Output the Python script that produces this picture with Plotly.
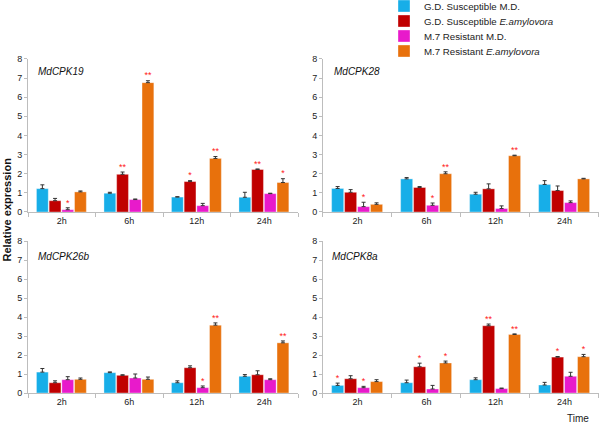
import plotly.graph_objects as go

times = ["2h", "6h", "12h", "24h"]
series_names = ["G.D. Susceptible M.D.", "G.D. Susceptible <i>E.amylovora</i>",
                "M.7 Resistant M.D.", "M.7 Resistant <i>E.amylovora</i>"]
colors = ["#17AEE8", "#C00000", "#E81ACB", "#E8710C"]
genes = ["MdCPK19", "MdCPK28", "MdCPK26b", "MdCPK8a"]

# values[gene][series] across times
cpk19_vals = [[1.22, 0.98, 0.78, 0.77], [0.59, 1.97, 1.59, 2.22], [0.12, 0.65, 0.33, 0.96], [1.05, 6.76, 2.80, 1.54]]
cpk19_err = [[0.20, 0.05, 0.02, 0.26], [0.12, 0.12, 0.05, 0.03], [0.10, 0.03, 0.12, 0.02], [0.05, 0.10, 0.10, 0.20]]
cpk19_sig = [["", "", "", ""], ["", "**", "*", "**"], ["*", "", "", ""], ["", "**", "**", "*"]]

cpk28_vals = [[1.23, 1.73, 0.93, 1.44], [1.03, 1.28, 1.21, 1.12], [0.28, 0.35, 0.18, 0.49], [0.40, 2.00, 2.94, 1.73]]
cpk28_err = [[0.10, 0.07, 0.10, 0.20], [0.14, 0.05, 0.26, 0.24], [0.23, 0.12, 0.14, 0.09], [0.08, 0.10, 0.03, 0.03]]
cpk28_sig = [["", "", "", ""], ["", "", "", ""], ["*", "*", "", ""], ["", "**", "**", ""]]

cpk26b_vals = [[1.10, 1.07, 0.54, 0.88], [0.54, 0.93, 1.33, 0.96], [0.70, 0.79, 0.28, 0.70], [0.72, 0.72, 3.57, 2.64]]
cpk26b_err = [[0.19, 0.04, 0.10, 0.09], [0.10, 0.03, 0.10, 0.21], [0.16, 0.21, 0.09, 0.05], [0.07, 0.12, 0.12, 0.10]]
cpk26b_sig = [["", "", "", ""], ["", "", "", ""], ["", "", "*", ""], ["", "", "**", "**"]]

cpk8a_vals = [[0.40, 0.54, 0.70, 0.42], [0.75, 1.38, 3.54, 1.89], [0.28, 0.21, 0.23, 0.88], [0.60, 1.58, 3.08, 1.91]]
cpk8a_err = [[0.12, 0.14, 0.10, 0.14], [0.16, 0.19, 0.09, 0.03], [0.07, 0.19, 0.03, 0.21], [0.10, 0.10, 0.03, 0.12]]
cpk8a_sig = [["*", "", "", ""], ["", "*", "**", "*"], ["*", "", "", ""], ["", "*", "**", "*"]]

panels = [
    (cpk19_vals, cpk19_err, cpk19_sig),
    (cpk28_vals, cpk28_err, cpk28_sig),
    (cpk26b_vals, cpk26b_err, cpk26b_sig),
    (cpk8a_vals, cpk8a_err, cpk8a_sig),
]

xdoms = [[0.0467, 0.4967], [0.5383, 0.9983], [0.0467, 0.4967], [0.5383, 0.9983]]
ydoms = [[0.5, 0.861], [0.5, 0.861], [0.0731, 0.4316], [0.0731, 0.4316]]

FONT = "Liberation Sans, Arial, sans-serif"
bar_w = 0.175
step = 0.188
start = -0.375
legend_ids = ["legend", "legend2", "legend3", "legend4"]
legend_rows_px = [6, 21, 36, 51]

fig = go.Figure()
layout = {}
for p, (vals, errs, sigs) in enumerate(panels):
    xa = "x" if p == 0 else f"x{p+1}"
    ya = "y" if p == 0 else f"y{p+1}"
    for s in range(4):
        off = start + s * step
        fig.add_trace(go.Bar(
            x=list(range(4)), y=vals[s], width=bar_w, offset=off,
            marker=dict(color=colors[s], line=dict(color="rgba(255,255,255,0.7)", width=0.5)),
            error_y=dict(type="data", array=errs[s], arrayminus=[0]*4, symmetric=False,
                         color="#333333", thickness=1, width=2),
            name=series_names[s], legend=legend_ids[s], showlegend=(p == 0),
            xaxis=xa, yaxis=ya, hoverinfo="skip"))
        xs = [i + off + bar_w / 2 for i in range(4)]
        ys = [v + e for v, e in zip(vals[s], errs[s])]
        fig.add_trace(go.Scatter(
            x=xs, y=ys, mode="text", text=sigs[s], textposition="top center",
            textfont=dict(color="#FF2020", size=9, family=FONT),
            showlegend=False, xaxis=xa, yaxis=ya, hoverinfo="skip"))
    xk = "xaxis" if p == 0 else f"xaxis{p+1}"
    yk = "yaxis" if p == 0 else f"yaxis{p+1}"
    layout[xk] = dict(domain=xdoms[p], anchor=ya, range=[-0.5, 3.5], automargin=False,
                      tickvals=list(range(4)), ticktext=times, ticks="", showgrid=False,
                      zeroline=False, showline=True, linecolor="#BDBDBD", linewidth=1,
                      tickfont=dict(size=9, color="#222", family=FONT),
                      minor=dict(tickvals=[-0.5, 0.5, 1.5, 2.5, 3.5], ticks="outside",
                                 ticklen=4, tickcolor="#BDBDBD", showgrid=False))
    layout[yk] = dict(domain=ydoms[p], anchor=xa, range=[0, 8], dtick=1, ticks="outside",
                      automargin=False,
                      ticklen=3, tickcolor="#BDBDBD", showgrid=False, zeroline=False,
                      showline=True, linecolor="#BDBDBD", linewidth=1,
                      tickfont=dict(size=9, color="#222", family=FONT))

for s, lid in enumerate(legend_ids):
    layout[lid] = dict(x=0.64, y=1 - legend_rows_px[s] / 424, xanchor="left", yanchor="middle",
                       font=dict(size=9.7, color="#222", family=FONT),
                       bgcolor="rgba(255,255,255,0)", borderwidth=0)

annotations = []
gene_pos = [(0.03, 0.915), (0.033, 0.915), (0.03, 0.895), (0.025, 0.9)]
for p, g in enumerate(genes):
    xr = "x domain" if p == 0 else f"x{p+1} domain"
    yr = "y domain" if p == 0 else f"y{p+1} domain"
    annotations.append(dict(text=f"<i>{g}</i>", x=gene_pos[p][0], y=gene_pos[p][1],
                            xref=xr, yref=yr, xanchor="left", yanchor="middle",
                            showarrow=False, font=dict(size=10, color="#111", family=FONT)))
annotations.append(dict(text="<b>Relative expression</b>", x=0.011, y=0.505, xref="paper",
                        yref="paper", xanchor="center", yanchor="middle", textangle=-90,
                        showarrow=False, font=dict(size=11, color="#111", family=FONT)))
annotations.append(dict(text="Time", x=0.963, y=0.012, xref="paper", yref="paper",
                        xanchor="center", yanchor="middle",
                        showarrow=False, font=dict(size=10, color="#222", family=FONT)))

fig.update_layout(
    template="none",
    width=600, height=424, margin=dict(l=0, r=0, t=0, b=0, autoexpand=False),
    plot_bgcolor="white", paper_bgcolor="white",
    barmode="overlay",
    showlegend=True,
    annotations=annotations,
    **layout)

fig.write_html("out.html", config={"displayModeBar": False},
               post_script="document.body.style.margin='0';")
